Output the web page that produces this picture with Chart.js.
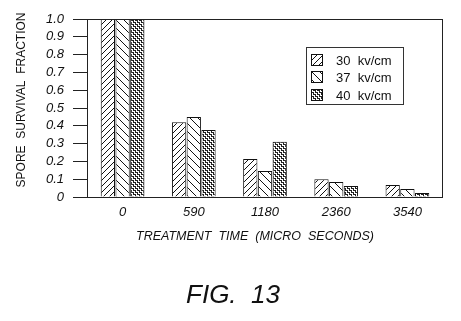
<!DOCTYPE html>
<html><head><meta charset="utf-8">
<script src="https://cdn.jsdelivr.net/npm/chart.js@4.4.1/dist/chart.umd.min.js"></script>
<style>html,body{margin:0;padding:0;background:#fff}#c{display:block}</style>
</head><body>
<canvas id="c" width="461" height="321"></canvas>
<script>
const categories = ['0', '590', '1180', '2360', '3540'];
const series30 = [1.0, 0.42, 0.213, 0.10, 0.067];
const series37 = [1.0, 0.45, 0.146, 0.084, 0.045];
const series40 = [1.0, 0.376, 0.31, 0.062, 0.022];
const seriesLabels = ['30  kv/cm', '37  kv/cm', '40  kv/cm'];
const yTicks = [0, 0.1, 0.2, 0.3, 0.4, 0.5, 0.6, 0.7, 0.8, 0.9, 1.0];
const xTitle = 'TREATMENT  TIME  (MICRO  SECONDS)';
const yTitle = 'SPORE  SURVIVAL  FRACTION';
const figLabel = 'FIG.  13';

function makePattern(kind) {
  const c = document.createElement('canvas');
  const s = kind === 'cross' ? 4 : (kind === 'fwd' ? 6 : 8);
  c.width = s; c.height = s;
  const g = c.getContext('2d');
  g.fillStyle = '#fff'; g.fillRect(0, 0, s, s);
  g.strokeStyle = '#111'; g.lineWidth = 1;
  if (kind === 'fwd') {
    g.beginPath();
    g.moveTo(0, s); g.lineTo(s, 0);
    g.moveTo(-1, 1); g.lineTo(1, -1);
    g.moveTo(s - 1, s + 1); g.lineTo(s + 1, s - 1);
    g.stroke();
  } else if (kind === 'back') {
    g.beginPath();
    g.moveTo(0, 0); g.lineTo(s, s);
    g.moveTo(s - 1, -1); g.lineTo(s + 1, 1);
    g.moveTo(-1, s - 1); g.lineTo(1, s + 1);
    g.stroke();
  } else {
    g.fillStyle = '#222';
    g.fillRect(0, 0, 2, 1); g.fillRect(2, 2, 2, 1);
    g.fillRect(1, 1, 1, 1); g.fillRect(3, 3, 1, 1);
    g.fillRect(3, 0, 1, 1); g.fillRect(1, 2, 1, 1);
  }
  return g.createPattern(c, 'repeat');
}
const pats = [makePattern('fwd'), makePattern('back'), makePattern('cross')];

const textPlugin = {
  id: 'texts',
  afterDraw(chart) {
    const ctx = chart.ctx;
    const a = chart.chartArea;
    ctx.save();
    ctx.strokeStyle = '#222'; ctx.lineWidth = 1;
    ctx.strokeRect(a.left + 0.5, a.top + 0.5, a.right - a.left - 1, a.bottom - a.top);
    ctx.fillStyle = '#111';
    ctx.font = '12px "Liberation Sans", Arial, sans-serif';
    ctx.textAlign = 'center'; ctx.textBaseline = 'middle';
    ctx.save();
    ctx.translate(22, 100);
    ctx.rotate(-Math.PI / 2);
    ctx.fillText(yTitle, 0, 0);
    ctx.restore();
    ctx.font = 'italic 12.5px "Liberation Sans", Arial, sans-serif';
    ctx.fillText(xTitle, 255, 237);
    ctx.font = 'italic 26px "Liberation Sans", Arial, sans-serif';
    ctx.fillText(figLabel, 233, 296);
    const lx = 306, ly = 47, lw = 97, lh = 57;
    ctx.fillStyle = '#fff';
    ctx.fillRect(lx, ly, lw, lh);
    ctx.strokeStyle = '#333';
    ctx.strokeRect(lx + 0.5, ly + 0.5, lw, lh);
    const ys = [60, 77, 95];
    ctx.font = '13px "Liberation Sans", Arial, sans-serif';
    ctx.textAlign = 'left';
    chart.data.datasets.forEach((ds, i) => {
      ctx.fillStyle = pats[i];
      ctx.fillRect(311, ys[i] - 6, 11, 11);
      ctx.strokeStyle = '#111';
      ctx.strokeRect(311.5, ys[i] - 5.5, 11, 11);
      ctx.fillStyle = '#111';
      ctx.fillText(ds.label, 336, ys[i] + 1);
    });
    ctx.restore();
  }
};

const mk = (label, data, i) => ({
  label, data,
  backgroundColor: pats[i],
  borderColor: '#111',
  borderWidth: 1,
  categoryPercentage: 0.62,
  barPercentage: 0.97
});

new Chart(document.getElementById('c'), {
  type: 'bar',
  data: {
    labels: categories,
    datasets: [mk(seriesLabels[0], series30, 0), mk(seriesLabels[1], series37, 1), mk(seriesLabels[2], series40, 2)]
  },
  options: {
    responsive: false,
    animation: false,
    devicePixelRatio: 1,
    layout: { padding: { left: 0, top: 19, right: 18, bottom: 94 } },
    plugins: { legend: { display: false }, tooltip: { enabled: false } },
    scales: {
      x: {
        grid: { display: false, drawTicks: false },
        border: { display: false },
        ticks: { padding: 8, color: '#111', font: { family: '"Liberation Sans", Arial, sans-serif', size: 13, style: 'italic' } },
        afterFit(s) { s.height = 30; }
      },
      y: {
        min: 0, max: 1,
        afterBuildTicks(s) { s.ticks = yTicks.map(v => ({ value: v })); },
        grid: { drawOnChartArea: false, tickLength: 14, color: '#222' },
        border: { display: false },
        ticks: {
          autoSkip: false,
          padding: 9, color: '#111',
          font: { family: '"Liberation Sans", Arial, sans-serif', size: 13, style: 'italic' },
          callback: v => v === 0 ? '0' : v.toFixed(1)
        },
        afterFit(s) { s.width = 87; }
      }
    }
  },
  plugins: [textPlugin]
});
</script>
</body></html>
